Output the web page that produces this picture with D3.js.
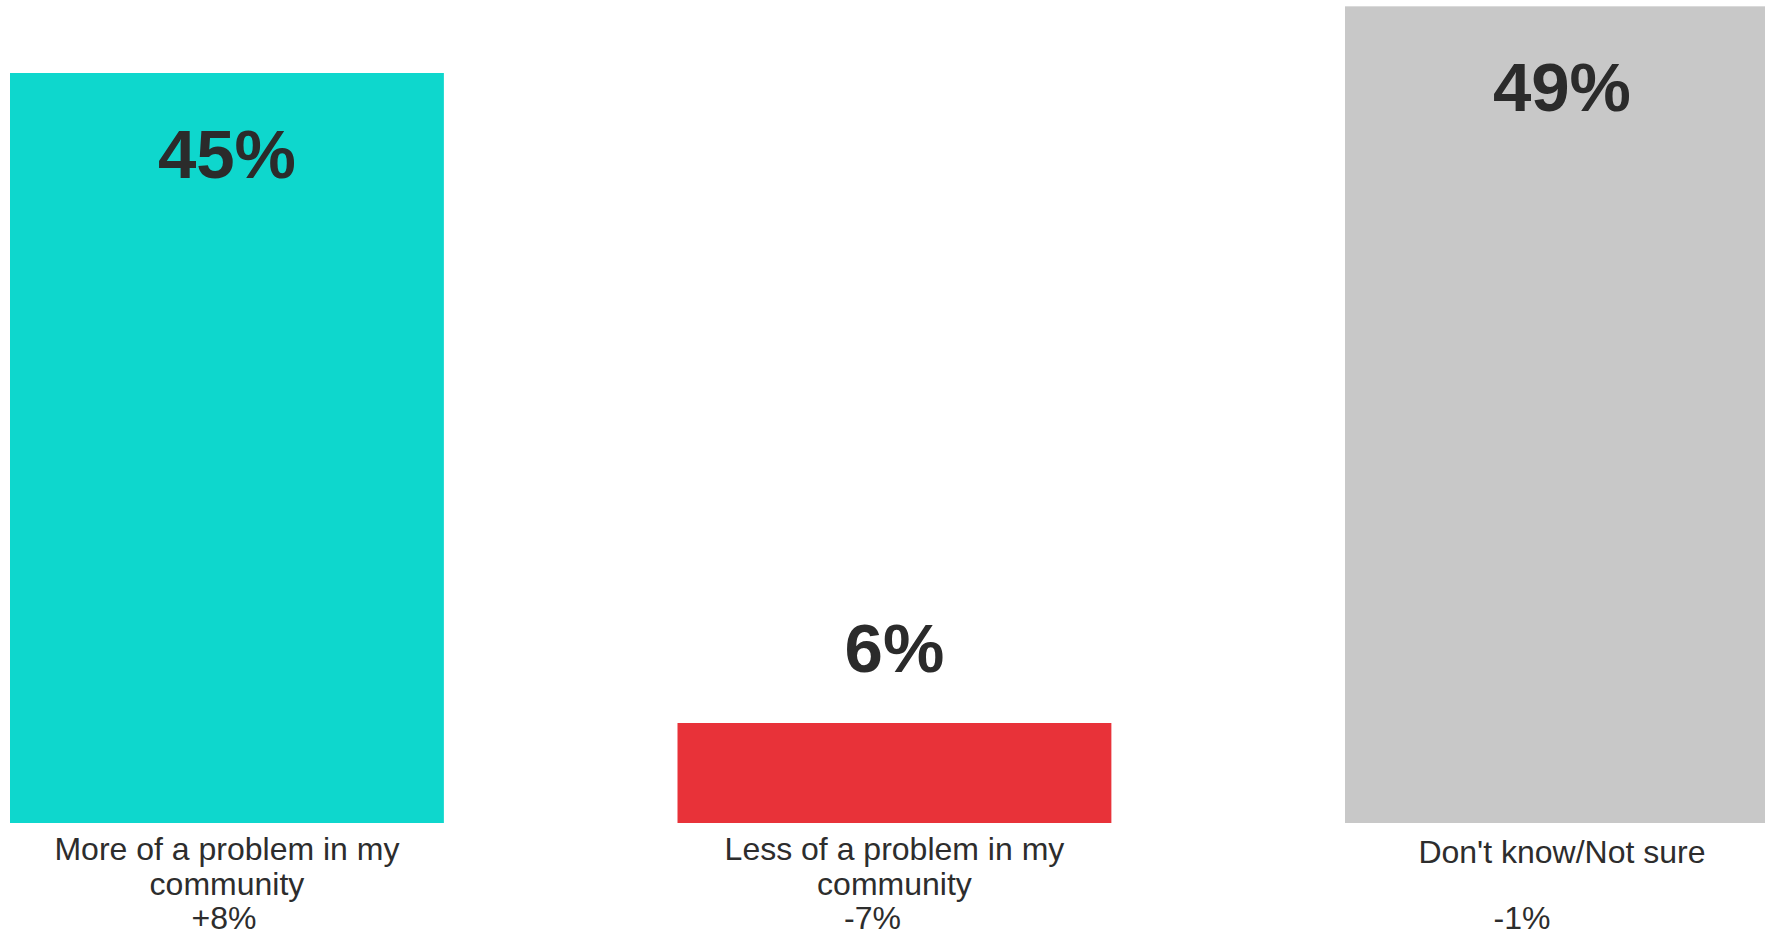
<!DOCTYPE html>
<html>
<head>
<meta charset="utf-8">
<script src="https://cdn.jsdelivr.net/npm/d3@7"></script>
<style>
  html, body { margin: 0; padding: 0; background: #ffffff; overflow: hidden; }
  svg { display: block; }
</style>
</head>
<body>
<svg id="chart" width="1765" height="937"></svg>
<script>
// ---- data ----
const categories = ["More of a problem in my community", "Less of a problem in my community", "Don't know/Not sure"];
const categoryLines = [["More of a problem in my", "community"], ["Less of a problem in my", "community"], ["Don't know/Not sure"]];
const values = [45, 6, 49];
const valueLabels = ["45%", "6%", "49%"];
const changeLabels = ["+8%", "-7%", "-1%"];
const barColors = ["#0ed7cd", "#e83239", "#c8c8c8"];

// ---- layout ----
const W = 1765, H = 937;
const baseY = 823;
const changeDx = [-3, -22, -40];

const svg = d3.select("#chart");

const x = d3.scaleBand()
  .domain(categories)
  .range([10, 10 + 2.65 * 667.5])
  .paddingInner(0.35)
  .paddingOuter(0);

const y = d3.scaleLinear()
  .domain([0, 45])
  .range([baseY, 73]);

const data = categories.map((c, i) => ({
  cat: c, value: values[i], label: valueLabels[i], change: changeLabels[i],
  lines: categoryLines[i], color: barColors[i], dx: changeDx[i]
}));

// bars
svg.append("g").selectAll("rect")
  .data(data)
  .join("rect")
  .attr("x", d => x(d.cat))
  .attr("y", d => y(d.value))
  .attr("width", x.bandwidth())
  .attr("height", d => y(0) - y(d.value))
  .attr("fill", d => d.color);

// value labels
svg.append("g").selectAll("text")
  .data(data)
  .join("text")
  .attr("x", d => x(d.cat) + x.bandwidth() / 2)
  .attr("y", d => (y(0) - y(d.value) > 200) ? y(d.value) + 105 : y(d.value) - 51)
  .attr("text-anchor", "middle")
  .attr("font-family", "'Liberation Sans', Arial, sans-serif")
  .attr("font-weight", "bold")
  .attr("font-size", 69)
  .attr("fill", "#2b2b2b")
  .text(d => d.label);

// category labels
const catG = svg.append("g")
  .attr("font-family", "'Liberation Sans', Arial, sans-serif")
  .attr("font-size", 32)
  .attr("fill", "#2d2d2d")
  .attr("text-anchor", "middle");

data.forEach(d => {
  const cx = x(d.cat) + x.bandwidth() / 2;
  const t = catG.append("text").attr("x", cx);
  const startY = d.lines.length === 1 ? 863 : 860;
  d.lines.forEach((ln, j) => {
    t.append("tspan").attr("x", cx).attr("y", startY + j * 35).text(ln);
  });
  catG.append("text")
    .attr("x", cx + d.dx)
    .attr("y", 929)
    .text(d.change);
});
</script>
</body>
</html>
